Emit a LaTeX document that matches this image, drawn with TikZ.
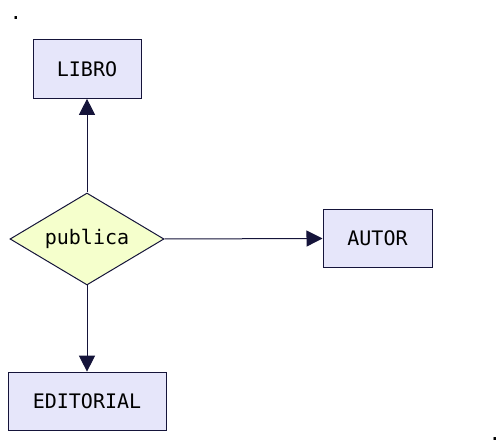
\documentclass[tikz,border=0pt]{standalone}
\usepackage{fontspec}
\setmainfont{DejaVu Sans Mono}
\usetikzlibrary{shapes.geometric,arrows.meta}

\definecolor{ink}{HTML}{15143A}
\definecolor{boxfill}{HTML}{E6E6FA}
\definecolor{relfill}{HTML}{F5FFCC}

\begin{document}
\begin{tikzpicture}[x=0.75pt,y=-0.75pt,
    entity/.style={draw=ink,fill=boxfill,line width=0.75pt,inner sep=0pt,minimum height=44pt},
    relation/.style={diamond,shape aspect=1.674,draw=ink,fill=relfill,line width=0.75pt,inner sep=0pt,minimum width=115.5pt,minimum height=69pt},
    link/.style={draw=ink,line width=0.75pt,-{Triangle[length=12pt,width=12pt]}},
    font=\fontsize{15}{17}\selectfont]
        \useasboundingbox (0,0) rectangle (500,448);

        % Corner marks
        \node[anchor=base,inner sep=0pt] (dotA) at (16,20) {.};
        \node[anchor=base,inner sep=0pt] (dotB) at (495,441) {.};

        % Entities and relation
        \node[entity,minimum width=81pt] (libro) at (87,69) {LIBRO};
        \node[relation] (publica) at (87,239) {publica};
        \node[entity,minimum width=81.75pt] (autor) at (377.5,238.5) {AUTOR};
        \node[entity,minimum width=118.5pt] (editorial) at (87,401.5) {EDITORIAL};

        % Links
        \draw[link] (publica.north) -- (libro.south);
        \draw[link] (publica.east) -- (autor.west);
        \draw[link] (publica.south) -- (editorial.north);
\end{tikzpicture}
\end{document}
